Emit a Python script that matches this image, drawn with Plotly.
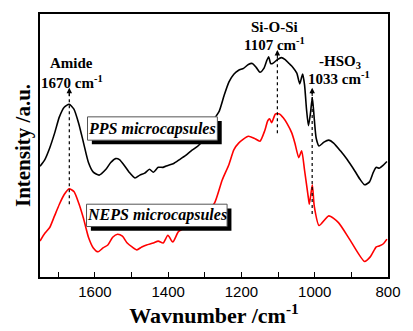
import plotly.graph_objects as go

# ---- data ----
wavenumber_pps = [1750, 1736.8, 1723.5, 1710.3, 1697.1, 1683.9, 1670.6, 1657.4, 1644.2, 1631, 1617.7, 1604.5,
                  1588.6, 1570, 1556.9, 1543.6, 1533.1, 1519.8, 1506.6, 1490.7, 1477.5, 1464.3, 1451.1, 1440.5,
                  1427.2, 1414, 1400.8, 1384.9, 1369, 1353.2, 1337.3, 1318.8, 1300.3, 1287, 1273.8, 1260.6,
                  1247.4, 1234.1, 1220.9, 1207.7, 1194.4, 1181.2, 1170.6, 1160, 1149.5, 1138.9, 1131, 1125.7,
                  1120.4, 1115.1, 1101.8, 1091.3, 1080.7, 1070.1, 1059.5, 1048.9, 1041, 1035.7, 1033, 1027.8,
                  1022.5, 1017.2, 1011.9, 1006.6, 1001.3, 996, 988.1, 974.9, 961.6, 948.4, 929.9, 911.4, 890.2,
                  877, 863.8, 850.5, 839.9, 832, 824.1, 813.5, 802.9]
intensity_pps = [114, 121, 133, 148, 165, 175, 178, 173, 158, 138, 118, 108,
                 105, 111, 118, 122, 121, 115, 108, 102, 105, 107, 111, 108,
                 113, 113, 115, 117, 121, 125, 130, 135, 143, 153, 163, 171,
                 187, 201, 209, 213, 215, 219, 220, 216, 211, 215, 223, 227,
                 220, 220, 224, 226, 224, 220, 216, 210, 199, 206, 209, 198,
                 173, 156, 168, 185, 163, 143, 135, 139, 141, 138, 130, 121, 109,
                 101, 95, 98, 108, 113, 112, 115, 119]

wavenumber_neps = [1750, 1736.8, 1723.5, 1710.3, 1697.1, 1683.9, 1670.6, 1657.4, 1644.2, 1631, 1617.7, 1604.5,
                   1591.3, 1578, 1564.8, 1551.6, 1538.4, 1525.1, 1511.9, 1498.7, 1485.5, 1472.2, 1459, 1440.5,
                   1427.2, 1414, 1400.8, 1387.6, 1371.7, 1353.2, 1326.7, 1300.3, 1273.8, 1252.6, 1234.1, 1220.9,
                   1207.7, 1181.2, 1165.3, 1149.5, 1136.3, 1128.3, 1123, 1117.8, 1107.2, 1096.5, 1085.9, 1075.4,
                   1062.2, 1054.2, 1043.6, 1035.7, 1027.8, 1017.2, 1014.6, 1006.6, 1001.3, 988.1, 961.6, 935.2,
                   903.4, 863.8, 847.9, 832, 824.1, 813.5, 802.9]
intensity_neps = [37, 45, 51, 63, 75, 85, 91, 88, 76, 60, 41, 30,
                  26, 30, 33, 41, 44, 42, 35, 31, 28, 31, 33, 35,
                  37, 35, 43, 36, 47, 51, 59, 65, 76, 100, 116, 131,
                  138, 145, 143, 140, 151, 161, 163, 159, 168, 168, 164, 158,
                  148, 138, 123, 130, 110, 81, 75, 95, 73, 53, 63, 56,
                  38, 16, 21, 31, 32, 34, 39]

tick_values = [1600, 1400, 1200, 1000, 800]
tick_labels = ["1600", "1400", "1200", "1000", "800"]

# annotated peaks: wavenumber, arrow bottom, arrow top
peak_positions = [1670, 1102, 1007]
arrow_bottoms = [75, 148, 65]
arrow_tops = [195, 234, 195]

SERIF = "Liberation Serif"
SANS = "Liberation Sans"

fig = go.Figure()
fig.add_trace(go.Scatter(x=wavenumber_pps, y=intensity_pps, mode="lines",
                         line=dict(color="black", width=1.6, shape="spline", smoothing=0.6),
                         showlegend=False, hoverinfo="skip"))
fig.add_trace(go.Scatter(x=wavenumber_neps, y=intensity_neps, mode="lines",
                         line=dict(color="#ff0000", width=1.6, shape="spline", smoothing=0.6),
                         showlegend=False, hoverinfo="skip"))

shapes = []
annotations = []
for xp, yb, yt in zip(peak_positions, arrow_bottoms, arrow_tops):
    shapes.append(dict(type="line", xref="x", yref="y", x0=xp, x1=xp, y0=yb, y1=yt - 2,
                       line=dict(color="black", width=1.2, dash="dot"), layer="above"))
    annotations.append(dict(x=xp, y=yt, xref="x", yref="y", ax=xp, ay=yt - 10, axref="x", ayref="y",
                            text="", showarrow=True, arrowhead=2, arrowsize=1, arrowwidth=1.1,
                            arrowcolor="black"))

def boxed(x0, x1, y0, y1, text, dx=0.0125, dy=0.016):
    shapes.append(dict(type="rect", xref="paper", yref="paper", x0=x0 + dx, x1=x1 + dx, y0=y0 - dy, y1=y1 - dy,
                       fillcolor="black", line=dict(width=0), layer="above"))
    shapes.append(dict(type="rect", xref="paper", yref="paper", x0=x0, x1=x1, y0=y0, y1=y1,
                       fillcolor="white", line=dict(color="#555555", width=1), layer="above"))
    annotations.append(dict(x=(x0 + x1) / 2, y=(y0 + y1) / 2, xref="paper", yref="paper",
                            text="<b><i>" + text + "</i></b>", showarrow=False,
                            font=dict(family=SERIF, size=16, color="black"),
                            xanchor="center", yanchor="middle"))

boxed(0.1365, 0.5097, 0.5203, 0.6089, "PPS microcapsules")
boxed(0.1337, 0.5376, 0.1919, 0.2768, "NEPS microcapsules")

def px2paper(xpx, ypx):
    return (xpx - 40) / 359, (283 - ypx) / 271

label_texts = ["Amide", "1670 cm<sup>-1</sup>", "Si-O-Si", "1107 cm<sup>-1</sup>",
               "-HSO<sub>3</sub>", "1033 cm<sup>-1</sup>"]
label_px = [(72, 63), (73, 82), (282, 25), (282, 43), (349, 61), (348, 78)]
for (xpx, ypx), t in zip(label_px, label_texts):
    xx, yy = px2paper(xpx, ypx)
    annotations.append(dict(x=xx, y=yy, xref="paper", yref="paper", text="<b>" + t + "</b>",
                            showarrow=False, font=dict(family=SERIF, size=15, color="black"),
                            xanchor="center", yanchor="middle"))

fig.update_layout(
    width=413, height=331,
    margin=dict(l=40, r=14, t=12, b=48),
    paper_bgcolor="white", plot_bgcolor="white",
    shapes=shapes, annotations=annotations,
    xaxis=dict(range=[1750, 800], tickvals=tick_values, ticktext=tick_labels,
               ticks="inside", ticklen=5, tickwidth=1.2, tickcolor="black",
               minor=dict(dtick=100, tick0=800, ticks="inside", ticklen=5, tickwidth=1.2, tickcolor="black"),
               showline=True, linecolor="black", linewidth=1.5, mirror=True,
               showgrid=False, zeroline=False,
               tickfont=dict(family=SANS, size=15, color="black"),
               title=dict(text="<b>Wavnumber /cm<sup>-1</sup></b>",
                          font=dict(family=SERIF, size=22, color="black"),
                          standoff=4)),
    yaxis=dict(range=[0, 271], showticklabels=False, ticks="",
               showline=True, linecolor="black", linewidth=1.5, mirror=True,
               showgrid=False, zeroline=False,
               title=dict(text="<b>Intensity /a.u.</b>",
                          font=dict(family=SERIF, size=21, color="black"),
                          standoff=2)),
)

fig.write_html("out.html")
